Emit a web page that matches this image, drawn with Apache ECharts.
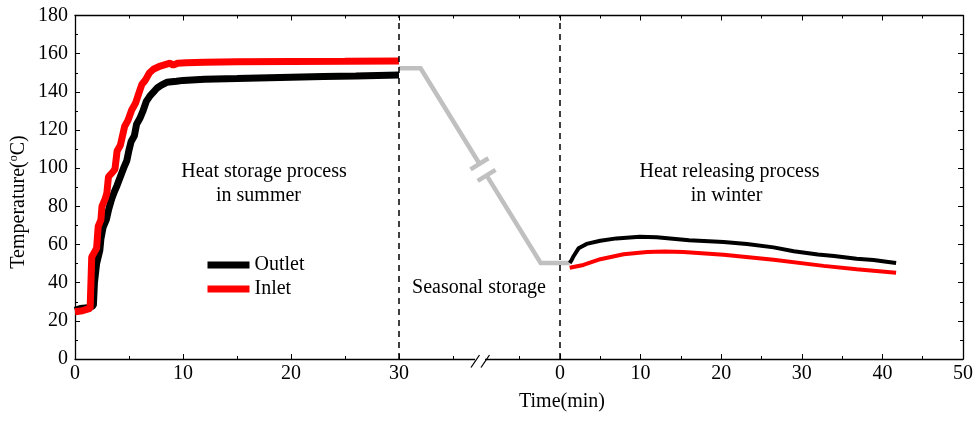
<!DOCTYPE html>
<html>
<head>
<meta charset="utf-8">
<script src="https://cdn.jsdelivr.net/npm/echarts@6/dist/echarts.min.js"></script>
<style>
  html, body { margin: 0; padding: 0; background: #fff; }
  #chart { width: 976px; height: 423px; }
</style>
</head>
<body>
<div id="chart"></div>
<script>
// ---- Heat storage process in summer (time in min, temperature in °C) ----
const summerOutletTime = [0, 0.5, 1.4, 1.7, 1.8, 2.0, 2.3, 2.4, 2.6, 2.9, 3.1, 3.4, 3.6, 3.9, 4.2, 4.5, 4.8, 5.0, 5.2, 5.5, 5.7, 6.0, 6.3, 6.6, 6.9, 7.2, 7.6, 8.0, 8.5, 9.4, 10, 12, 15, 17, 20, 23, 26, 30];
const summerOutlet     = [25.5, 26.5, 27, 28, 40, 50, 57, 63, 69, 73, 78, 84, 87, 91, 95.5, 100, 104, 109.5, 114, 117, 123, 126, 130, 135, 137.5, 139.5, 142, 143.5, 145, 145.5, 146, 146.6, 147, 147.3, 147.7, 148, 148.3, 148.8];

const summerInletTime = [0, 0.7, 1.4, 1.55, 1.8, 2.0, 2.15, 2.4, 2.5, 2.8, 2.95, 3.1, 3.5, 3.7, 3.9, 4.2, 4.6, 4.9, 5.25, 5.6, 5.9, 6.2, 6.5, 6.9, 7.3, 7.9, 8.5, 8.8, 9.1, 9.5, 10.3, 12, 15, 20, 25, 30];
const summerInlet     = [24.8, 25.3, 26.5, 53.5, 56, 58, 69.5, 73, 80, 84, 87, 95.5, 98, 99.5, 109, 112, 122, 125, 130.5, 134, 139, 144, 146, 150, 152, 153.5, 154.5, 155, 154, 155, 155.2, 155.5, 155.7, 155.9, 156, 156.2];

// ---- Seasonal storage (end of summer run -> start of winter run) ----
const storagePhase = ['summer', 'summer', 'winter', 'winter'];
const storageTime  = [30, 32, -2.4, 1.2];
const storageTemp  = [152.3, 152.3, 50.3, 50.3];

// ---- Heat releasing process in winter ----
const winterOutletTime = [1.2, 1.4, 1.7, 2.3, 3.3, 5, 7, 9.9, 12, 16, 20.3, 23.2, 26.5, 29, 32, 34, 36.8, 38.9, 40.5, 41.7];
const winterOutlet     = [50.3, 51.5, 54, 58, 60.3, 62, 63.2, 64, 63.8, 62.2, 61.3, 60.3, 58.5, 56.5, 54.8, 54, 52.5, 51.9, 51, 50.3];

const winterInletTime = [1.2, 2.9, 5, 7.9, 10.8, 13, 15.3, 20.3, 26.5, 32.7, 36.8, 41.7];
const winterInlet     = [47.8, 49.3, 52.3, 54.9, 56.1, 56.3, 56.1, 54.6, 52, 48.8, 47, 45.2];

// ---- Axis ticks ----
const summerTicks = [0, 10, 20, 30];
const winterTicks = [0, 10, 20, 30, 40, 50];
const summerMinorTicks = [5, 15, 25, 35];
const winterMinorTicks = [-5, 5, 15, 25, 35, 45];

// The broken time axis: summer minutes map 1:1, the winter run restarts
// at its own origin with a tighter scale.
const WINTER_ORIGIN = 44.91;
const WINTER_SCALE = 0.7463;
const AXIS_MAX = WINTER_ORIGIN + 50 * WINTER_SCALE;
const AXIS_BREAK = 37.5;

function pos(phase, t) {
  return phase === 'summer' ? t : WINTER_ORIGIN + t * WINTER_SCALE;
}
function pairs(phase, times, temps) {
  return times.map((t, i) => [pos(phase, t), temps[i]]);
}

const labelOf = {};
summerTicks.forEach(t => { labelOf[pos('summer', t).toFixed(3)] = String(t); });
winterTicks.forEach(t => { labelOf[pos('winter', t).toFixed(3)] = String(t); });
const majorPos = summerTicks.map(t => pos('summer', t)).concat(winterTicks.map(t => pos('winter', t)));
const minorPos = summerMinorTicks.map(t => pos('summer', t)).concat(winterMinorTicks.map(t => pos('winter', t)));

const FONT = '"Liberation Serif", "Times New Roman", serif';
const FONT_SIZE = 20;
const INK = '#000';
const RED = '#ff0000';

function xAxisDef(position, values, len, withLine, withLabel) {
  return {
    type: 'value', min: 0, max: AXIS_MAX, position: position,
    splitLine: { show: false },
    axisLine: { show: withLine, onZero: false, lineStyle: { color: INK, width: 1.3 } },
    axisTick: { show: true, inside: true, length: len, customValues: values, lineStyle: { color: INK, width: 1 } },
    axisLabel: withLabel ? {
      show: true, customValues: values, margin: 5, color: INK, fontFamily: FONT, fontSize: FONT_SIZE,
      formatter: v => labelOf[Number(v).toFixed(3)] || ''
    } : { show: false }
  };
}

function yAxisDef(position, withLabel) {
  return {
    type: 'value', min: 0, max: 180, interval: 20, position: position,
    splitLine: { show: false },
    axisLine: { show: true, onZero: false, lineStyle: { color: INK, width: 1.3 } },
    axisTick: { show: true, inside: true, length: 5, lineStyle: { color: INK } },
    minorTick: { show: true, splitNumber: 2, length: 3, lineStyle: { color: INK } },
    axisLabel: withLabel ? { show: true, margin: 7, color: INK, fontFamily: FONT, fontSize: FONT_SIZE } : { show: false }
  };
}

function note(text, cx, cy) {
  return {
    type: 'text', x: cx, y: cy,
    style: { text: text, font: FONT_SIZE + 'px ' + FONT, fill: INK, align: 'center', verticalAlign: 'middle' }
  };
}

const chart = echarts.init(document.getElementById('chart'), null, { renderer: 'canvas' });

const option = {
  backgroundColor: '#fff',
  animation: false,
  grid: { left: 75, right: 13, top: 15.5, bottom: 64, containLabel: false },
  xAxis: [
    xAxisDef('bottom', majorPos, 5, true, true),
    xAxisDef('bottom', minorPos, 3, false, false),
    xAxisDef('top', majorPos, 5, true, false),
    xAxisDef('top', minorPos, 3, false, false)
  ],
  yAxis: [yAxisDef('left', true), yAxisDef('right', false)],
  legend: {
    orient: 'vertical', left: 199, top: 250,
    itemWidth: 42, itemHeight: 7, itemGap: 4,
    data: ['Outlet', 'Inlet'],
    lineStyle: { width: 7 },
    textStyle: { color: INK, fontFamily: FONT, fontSize: FONT_SIZE }
  },
  graphic: [
    note('Heat storage process', 264, 172),
    note('in summer', 258.5, 196),
    note('Heat releasing process', 729.5, 172),
    note('in winter', 726.5, 196),
    note('Seasonal storage', 479, 288),
    note('Time(min)', 562, 402),
    {
      type: 'text', x: 19, y: 202, rotation: Math.PI / 2,
      style: {
        text: 'Temperature({sup|o}C)', font: FONT_SIZE + 'px ' + FONT, fill: INK,
        align: 'center', verticalAlign: 'middle', lineHeight: 22,
        rich: { sup: { fontFamily: FONT, fontSize: 12, lineHeight: 12, verticalAlign: 'top', fill: INK } }
      }
    }
  ],
  series: [
    {
      name: 'Outlet', type: 'line', xAxisIndex: 0, yAxisIndex: 0,
      data: pairs('summer', summerOutletTime, summerOutlet),
      symbol: 'rect', symbolSize: 6, showSymbol: false,
      itemStyle: { color: INK },
      lineStyle: { color: INK, width: 7 },
      z: 3,
      markLine: {
        silent: true, symbol: 'none', label: { show: false },
        lineStyle: { color: INK, width: 1.5, type: [6, 5] },
        data: [{ xAxis: pos('summer', 30) }, { xAxis: pos('winter', 0) }]
      }
    },
    {
      name: 'Inlet', type: 'line', xAxisIndex: 0, yAxisIndex: 0,
      data: pairs('summer', summerInletTime, summerInlet),
      symbol: 'circle', symbolSize: 6, showSymbol: false,
      itemStyle: { color: RED },
      lineStyle: { color: RED, width: 7 },
      z: 4
    },
    {
      name: 'Outlet', type: 'line', xAxisIndex: 0, yAxisIndex: 0,
      data: pairs('winter', winterOutletTime, winterOutlet),
      showSymbol: false, symbol: 'rect',
      itemStyle: { color: INK },
      lineStyle: { color: INK, width: 4 },
      z: 3
    },
    {
      name: 'Inlet', type: 'line', xAxisIndex: 0, yAxisIndex: 0,
      data: pairs('winter', winterInletTime, winterInlet),
      showSymbol: false, symbol: 'circle',
      itemStyle: { color: RED },
      lineStyle: { color: RED, width: 4 },
      z: 4
    },
    {
      // grey storage path with a "=" break on its falling leg
      type: 'custom', xAxisIndex: 0, yAxisIndex: 0, clip: false, silent: true, z: 2,
      data: storageTime.map((t, i) => [pos(storagePhase[i], t), storageTemp[i]]),
      renderItem: function (params, api) {
        if (params.dataIndex !== 0) return null;
        const pts = storageTime.map((t, i) => api.coord([pos(storagePhase[i], t), storageTemp[i]]));
        const a = pts[1], b = pts[2];
        const dx = b[0] - a[0], dy = b[1] - a[1];
        const len = Math.hypot(dx, dy);
        const ux = dx / len, uy = dy / len;
        const px = uy, py = -ux;
        const at = 0.52, gap = 6.8, half = 10.5;
        const m = [a[0] + dx * at, a[1] + dy * at];
        const p1 = [m[0] - ux * gap, m[1] - uy * gap];
        const p2 = [m[0] + ux * gap, m[1] + uy * gap];
        const grey = { stroke: '#c0c0c0', lineWidth: 4.5, fill: null };
        return {
          type: 'group',
          children: [
            { type: 'polyline', shape: { points: [pts[0], pts[1], p1] }, style: grey },
            { type: 'polyline', shape: { points: [p2, pts[2], pts[3]] }, style: grey },
            { type: 'line', shape: { x1: p1[0] - px * half, y1: p1[1] - py * half, x2: p1[0] + px * half, y2: p1[1] + py * half }, style: grey },
            { type: 'line', shape: { x1: p2[0] - px * half, y1: p2[1] - py * half, x2: p2[0] + px * half, y2: p2[1] + py * half }, style: grey }
          ]
        };
      }
    },
    {
      // "//" break mark on the time axis
      type: 'custom', xAxisIndex: 0, yAxisIndex: 0, clip: false, silent: true, z: 10,
      data: [[AXIS_BREAK, 0]],
      renderItem: function (params, api) {
        const c = api.coord([AXIS_BREAK, 0]);
        const s = { stroke: INK, lineWidth: 1.3, fill: null };
        return {
          type: 'group',
          children: [
            { type: 'rect', shape: { x: c[0] - 5, y: c[1] - 2, width: 10, height: 4 }, style: { fill: '#fff' } },
            { type: 'line', shape: { x1: c[0] - 0.5, y1: c[1] - 4, x2: c[0] - 9, y2: c[1] + 8.5 }, style: s },
            { type: 'line', shape: { x1: c[0] + 9.5, y1: c[1] - 4, x2: c[0] + 1, y2: c[1] + 8.5 }, style: s }
          ]
        };
      }
    }
  ]
};

chart.setOption(option);
</script>
</body>
</html>
